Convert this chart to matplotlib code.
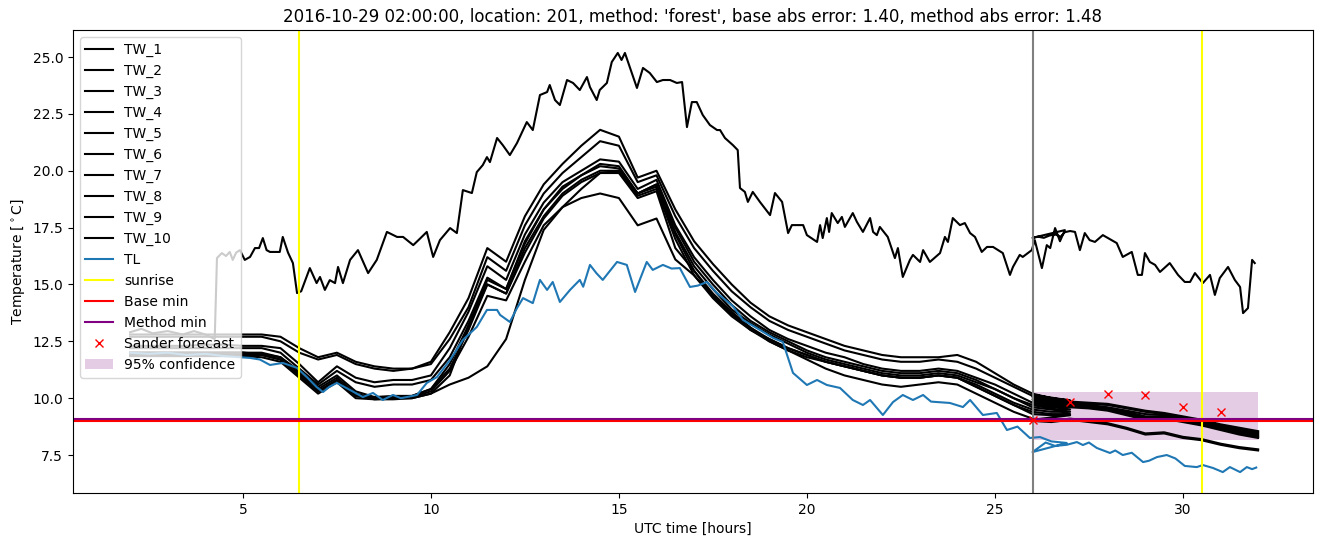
"""Station 201 temperature traces with minimum-temperature forecasts (2016-10-29 02:00)."""
import matplotlib
matplotlib.use("Agg")
import matplotlib.pyplot as plt
import numpy as np

# --- data -----------------------------------------------------------------
# half-hourly wall sensors TW_2..TW_10 (history 2h..27h, then forecast pass 26h..32h)
t_hist = np.arange(2.0, 27.01, 0.5)
t_fc = np.arange(26.0, 32.01, 0.5)

tw_hist = {
    "TW_2": [12.8, 12.8, 12.8, 12.8, 12.8, 12.8, 12.8, 12.8, 12.7, 12.2,
             11.8, 12.0, 11.6, 11.4, 11.3, 11.3, 11.6, 12.9, 14.4, 16.6,
             16.0, 18.0, 19.4, 20.3, 21.1, 21.8, 21.5, 19.7, 20.0, 18.3,
             16.9, 15.9, 15.0, 14.2, 13.6, 13.2, 12.9, 12.6, 12.3, 12.1,
             11.9, 11.8, 11.8, 11.8, 11.9, 11.6, 11.1, 10.6, 10.2, 10.0, 9.9],
    "TW_3": [12.7, 12.7, 12.7, 12.7, 12.7, 12.7, 12.7, 12.7, 12.5, 12.0,
             11.7, 11.9, 11.5, 11.3, 11.2, 11.3, 11.5, 12.6, 14.0, 16.2,
             15.6, 17.6, 19.0, 19.9, 20.6, 21.3, 21.1, 19.5, 19.8, 18.0,
             16.6, 15.6, 14.7, 14.0, 13.4, 13.0, 12.7, 12.4, 12.1, 11.9,
             11.7, 11.6, 11.6, 11.7, 11.6, 11.3, 10.9, 10.5, 10.1, 9.9, 9.8],
    "TW_4": [12.3, 12.3, 12.3, 12.3, 12.35, 12.35, 12.3, 12.3, 12.2, 11.5,
             10.7, 11.4, 10.9, 10.7, 10.8, 10.8, 11.0, 12.2, 13.8, 15.8,
             15.2, 17.2, 18.6, 19.5, 20.0, 20.5, 20.4, 19.2, 19.6, 17.6,
             16.2, 15.2, 14.3, 13.6, 13.0, 12.6, 12.3, 12.0, 11.8, 11.5,
             11.3, 11.2, 11.2, 11.3, 11.2, 10.9, 10.6, 10.2, 9.8, 9.7, 9.7],
    "TW_5": [12.2, 12.2, 12.2, 12.2, 12.2, 12.2, 12.2, 12.2, 12.0, 11.3,
             10.6, 11.2, 10.7, 10.5, 10.6, 10.6, 10.8, 11.8, 13.4, 15.3,
             14.8, 16.8, 18.3, 19.2, 19.8, 20.3, 20.2, 19.0, 19.4, 17.3,
             15.8, 14.8, 13.9, 13.3, 12.8, 12.4, 12.0, 11.7, 11.5, 11.3,
             11.1, 11.0, 11.0, 11.1, 11.0, 10.7, 10.4, 10.0, 9.7, 9.6, 9.6],
    "TW_6": [12.0, 12.0, 12.0, 12.0, 12.0, 12.0, 12.0, 11.95, 11.8, 11.1,
             10.4, 10.9, 10.2, 10.0, 10.05, 10.1, 10.4, 11.3, 13.0, 15.0,
             14.6, 16.6, 18.0, 19.0, 19.6, 20.0, 20.0, 18.9, 19.2, 17.0,
             15.4, 14.4, 13.6, 13.0, 12.5, 12.1, 11.8, 11.6, 11.4, 11.2,
             11.0, 10.9, 10.9, 11.0, 10.9, 10.5, 10.1, 9.7, 9.4, 9.3, 9.3],
    "TW_7": [11.9, 11.9, 11.9, 11.9, 11.9, 11.9, 11.9, 11.9, 11.7, 11.0,
             10.3, 10.8, 10.1, 10.0, 10.0, 10.05, 10.3, 11.2, 12.7, 14.5,
             14.3, 16.0, 17.6, 18.4, 18.8, 19.0, 18.8, 17.6, 17.9, 16.1,
             15.4, 14.5, 13.7, 13.1, 12.5, 12.1, 11.7, 11.3, 11.0, 10.8,
             10.6, 10.5, 10.6, 10.7, 10.6, 10.2, 9.8, 9.4, 9.1, 9.0, 9.0],
    "TW_8": [12.0, 12.0, 12.0, 12.0, 12.0, 12.0, 12.0, 12.0, 11.8, 11.2,
             10.5, 11.0, 10.3, 10.05, 10.1, 10.1, 10.4, 11.5, 13.2, 15.2,
             14.8, 16.9, 18.3, 19.3, 19.8, 20.2, 20.1, 19.0, 19.3, 17.2,
             15.6, 14.6, 13.8, 13.1, 12.6, 12.2, 11.9, 11.6, 11.4, 11.2,
             11.0, 10.9, 10.9, 11.0, 10.9, 10.5, 10.1, 9.7, 9.3, 9.25, 9.25],
    "TW_9": [12.0, 12.0, 12.0, 12.0, 12.0, 12.0, 12.0, 11.9, 11.7, 11.0,
             10.3, 10.8, 10.1, 9.95, 10.0, 10.0, 10.2, 10.6, 10.9, 11.4,
             12.6, 15.2, 17.4, 18.4, 19.2, 19.9, 20.0, 19.0, 19.4, 17.5,
             16.0, 15.0, 14.1, 13.4, 12.9, 12.5, 12.1, 11.8, 11.6, 11.4,
             11.2, 11.1, 11.1, 11.2, 11.1, 10.8, 10.4, 10.0, 9.6, 9.5, 9.5],
    "TW_10": [11.85, 11.85, 11.85, 11.85, 11.85, 11.85, 11.85, 11.8, 11.6, 10.9,
              10.2, 10.7, 10.0, 9.95, 9.95, 10.0, 10.2, 11.0, 13.2, 15.0,
              14.6, 16.4, 17.9, 18.9, 19.5, 19.9, 19.9, 18.8, 19.1, 16.6,
              15.6, 14.5, 13.7, 13.0, 12.6, 12.2, 11.9, 11.6, 11.4, 11.2,
              11.0, 10.9, 10.9, 11.0, 10.9, 10.6, 10.2, 9.8, 9.5, 9.4, 9.4],
}

tw_fc = {
    "TW_2": [10.15, 10.0, 9.85, 9.8, 9.75, 9.6, 9.45, 9.35, 9.2, 9.05, 8.85, 8.7, 8.55],
    "TW_3": [10.05, 9.9, 9.8, 9.75, 9.7, 9.55, 9.4, 9.3, 9.15, 9.0, 8.8, 8.65, 8.5],
    "TW_4": [9.95, 9.85, 9.75, 9.7, 9.6, 9.45, 9.3, 9.25, 9.1, 8.95, 8.75, 8.6, 8.45],
    "TW_5": [9.85, 9.8, 9.7, 9.65, 9.55, 9.4, 9.2, 9.2, 9.05, 8.9, 8.7, 8.55, 8.4],
    "TW_6": [9.75, 9.7, 9.65, 9.6, 9.5, 9.35, 9.15, 9.1, 9.0, 8.85, 8.65, 8.5, 8.35],
    "TW_7": [9.0, 8.95, 9.05, 8.95, 8.85, 8.65, 8.4, 8.45, 8.25, 8.15, 7.95, 7.8, 7.7],
    "TW_8": [9.05, 9.0, 9.1, 9.0, 8.9, 8.7, 8.45, 8.5, 8.3, 8.2, 8.0, 7.85, 7.75],
    "TW_9": [9.8, 9.75, 9.7, 9.6, 9.5, 9.3, 9.1, 9.15, 9.0, 8.85, 8.65, 8.45, 8.3],
    "TW_10": [9.7, 9.65, 9.6, 9.55, 9.45, 9.25, 9.05, 9.1, 8.95, 8.8, 8.6, 8.4, 8.25],
}

# TW_1 (noisy, sampled irregularly)
t_tw1 = [2.0, 2.3, 2.6, 3.0, 3.4, 3.7, 4.0, 4.25, 4.31, 4.44, 4.55, 4.65, 4.73, 4.82, 4.92,
         5.05, 5.19, 5.32, 5.43, 5.53, 5.63, 5.72, 5.98, 6.06, 6.2, 6.33, 6.44, 6.55, 6.78,
         6.96, 7.05, 7.18, 7.31, 7.45, 7.53, 7.66, 7.85, 8.06, 8.33, 8.56, 8.83, 9.1, 9.26,
         9.53, 9.7, 9.89, 10.06, 10.24, 10.51, 10.69, 10.85, 11.09, 11.22, 11.38, 11.49,
         11.57, 11.76, 11.91, 12.1, 12.29, 12.55, 12.71, 12.9, 13.09, 13.16, 13.3, 13.43,
         13.62, 13.78, 13.96, 14.15, 14.23, 14.41, 14.49, 14.68, 14.81, 14.97, 15.07, 15.16,
         15.29, 15.48, 15.64, 15.82, 16.01, 16.17, 16.36, 16.54, 16.68, 16.81, 16.94, 17.07,
         17.23, 17.42, 17.61, 17.69, 17.82, 18.03, 18.16, 18.22, 18.35, 18.43, 18.56, 18.75,
         19.02, 19.15, 19.34, 19.5, 19.6, 19.77, 19.9, 20.0, 20.27, 20.35, 20.42, 20.53,
         20.59, 20.66, 20.82, 20.93, 21.01, 21.22, 21.33, 21.49, 21.68, 21.76, 21.86, 21.94,
         22.15, 22.34, 22.42, 22.55, 22.74, 22.82, 23.01, 23.09, 23.27, 23.54, 23.67, 23.75,
         23.88, 24.07, 24.2, 24.34, 24.47, 24.65, 24.79, 24.95, 25.21, 25.4, 25.48, 25.66,
         25.74, 25.98, 26.06, 26.25, 26.38, 26.47, 26.6, 26.73, 26.86,
         # forecast pass
         26.0, 26.15, 26.3, 26.45, 26.6, 26.75, 26.86, 27.0, 27.13, 27.26, 27.39, 27.52,
         27.66, 27.87, 28.05, 28.24, 28.4, 28.64, 28.8, 28.91, 28.99, 29.12, 29.26, 29.39,
         29.65, 29.87, 30.05, 30.19, 30.32, 30.53, 30.72, 30.85, 30.98, 31.2, 31.38, 31.52,
         31.6, 31.73, 31.84, 31.91]
tw1 = [12.9, 13.05, 12.85, 12.95, 12.8, 12.95, 12.8, 12.6, 16.16, 16.38, 16.25, 16.43, 16.08, 16.4, 16.51,
       16.08, 16.21, 16.6, 16.6, 17.04, 16.51, 16.43, 16.43, 17.09, 16.4, 15.94, 14.62, 14.7, 15.72,
       15.06, 15.33, 14.76, 15.19, 15.06, 15.77, 15.06, 16.08, 16.51, 15.5, 16.08, 17.31, 17.09, 17.09,
       16.73, 17.0, 17.31, 16.21, 16.95, 17.48, 17.26, 19.15, 19.02, 19.94, 20.25, 20.6,
       20.38, 21.44, 21.13, 20.69, 21.22, 22.14, 21.79, 23.33, 23.46, 23.77, 23.11, 22.89,
       23.99, 23.86, 23.55, 24.12, 23.68, 23.11, 23.55, 23.86, 24.78, 25.18, 24.87, 25.18,
       24.56, 23.64, 24.52, 24.3, 23.9, 23.99, 23.99, 23.86, 23.9, 21.92, 23.02, 23.02,
       22.45, 22.01, 21.79, 21.79, 21.44, 21.13, 20.91, 19.24, 19.07, 18.63, 19.07, 18.63,
       18.05, 19.02, 18.63, 17.26, 17.61, 17.61, 17.61, 17.17, 16.87, 17.61, 17.04, 17.92,
       17.31, 18.14, 17.7, 17.97, 17.53, 18.14, 17.75, 17.31, 17.92, 17.31, 17.17, 17.53,
       17.09, 16.16, 16.6, 15.33, 16.08, 16.3, 15.99, 16.51, 15.99, 16.38, 17.09, 16.87,
       17.92, 17.61, 17.7, 17.26, 17.09, 16.43, 16.65, 16.65, 16.38, 15.42, 15.77, 16.3,
       16.21, 16.51, 16.95, 15.72, 16.73, 16.6, 17.48, 16.9, 17.39,
       17.05, 17.1, 17.05, 17.15, 17.2, 17.1, 17.3, 17.35, 17.31, 16.51, 17.26, 16.95,
       16.87, 17.17, 17.0, 16.82, 16.21, 16.43, 15.42, 15.42, 16.38, 15.99, 15.86, 15.55,
       15.94, 15.42, 15.11, 15.11, 15.5, 15.06, 15.42, 14.54, 15.28, 15.77, 15.2, 14.89,
       13.74, 13.96, 16.08, 15.94]

# TL air temperature
t_tl = [2.0, 2.5, 3.0, 3.5, 4.0, 4.5, 5.19, 5.45, 5.72, 6.06, 6.44, 6.7, 6.96, 7.13, 7.3, 7.5,
        7.85, 8.19, 8.46, 8.72, 8.99, 9.2, 9.36, 9.63, 9.89, 10.16, 10.51, 10.85, 11.22, 11.49,
        11.76, 11.84, 12.1, 12.29, 12.45, 12.71, 12.9, 13.09, 13.24, 13.43, 13.7, 13.96, 14.05,
        14.23, 14.4, 14.57, 14.95, 15.21, 15.43, 15.74, 15.9, 16.17, 16.4, 16.62, 16.89, 17.1,
        17.34, 17.61, 18.03, 18.3, 18.67, 19.1, 19.36, 19.63, 20.0, 20.27, 20.53, 20.88, 21.22,
        21.49, 21.68, 22.02, 22.29, 22.55, 22.82, 23.09, 23.3, 23.46, 23.8, 24.15, 24.34, 24.68,
        25.05, 25.32, 25.6, 25.93, 26.2, 26.5, 26.91,
        # forecast pass
        26.0, 26.35, 26.6, 26.91, 27.18, 27.34, 27.5, 27.71, 28.06, 28.2, 28.4, 28.64, 28.94,
        29.1, 29.31, 29.57, 29.8, 30.05, 30.37, 30.53, 30.8, 31.06, 31.25, 31.52, 31.7, 31.84,
        31.95]
tl = [12.0, 11.95, 12.0, 11.9, 11.95, 11.85, 11.77, 11.7, 11.46, 11.55, 11.33, 10.93, 10.49, 10.27,
      10.5, 10.67, 10.36, 10.05, 10.23, 9.92, 10.14, 10.0, 10.05, 10.14, 10.67, 10.93, 11.68, 12.56,
      13.13, 13.88, 13.88, 13.66, 13.35, 13.96, 14.4, 14.18, 15.2, 14.76, 15.11, 14.23, 14.76, 15.2,
      14.9, 15.86, 15.5, 15.2, 15.99, 15.86, 14.67, 15.99, 15.64, 15.86, 15.7, 15.72, 14.89, 14.95,
      15.11, 14.62, 14.05, 13.44, 13.08, 12.65, 12.47, 11.11, 10.58, 10.8, 10.58, 10.45, 9.92,
      9.7, 9.92, 9.26, 9.83, 10.14, 9.92, 10.14, 9.85, 9.83, 9.79, 9.61, 9.92, 9.26,
      9.35, 8.6, 8.75, 8.25, 8.29, 8.1, 8.03,
      7.63, 8.05, 7.9, 7.95, 8.07, 7.94, 8.05, 7.81, 7.59, 7.7, 7.5, 7.6, 7.19,
      7.25, 7.41, 7.5, 7.35, 7.02, 6.97, 7.06, 6.93, 6.75, 6.97, 6.75, 6.97, 6.88,
      6.95]

sunrise = [6.5, 30.5]
forecast_start = 26.0
base_min = 9.01
method_min = 9.10

sander_t = [26, 27, 28, 29, 30, 31]
sander_val = [9.02, 9.83, 10.17, 10.12, 9.61, 9.39]

conf_t = [26.0, 32.0]
conf_low = 8.15
conf_high = 10.27

# --- plot -----------------------------------------------------------------
fig = plt.figure(figsize=(13.24, 5.47), dpi=100)
ax = fig.add_axes([0.0551, 0.0987, 0.9366, 0.8465])

ax.plot(t_tw1, tw1, color="black", lw=1.5, label="TW_1")
for name in tw_hist:
    ax.plot(np.r_[t_hist, t_fc], np.r_[tw_hist[name], tw_fc[name]],
            color="black", lw=1.5, label=name)
ax.plot(t_tl, tl, color="C0", lw=1.5, label="TL")

for i, s in enumerate(sunrise):
    ax.axvline(s, color="yellow", lw=1.5, label="sunrise" if i == 0 else None)
ax.axvline(forecast_start, color="grey", lw=1.5)

ax.axhline(base_min, color="red", lw=1.5, label="Base min")
ax.axhline(method_min, color="purple", lw=1.5, label="Method min")
ax.plot(sander_t, sander_val, "rx", label="Sander forecast")
ax.fill_between(conf_t, conf_low, conf_high, color="purple", alpha=0.2, lw=0,
                label="95% confidence")

ax.set_xlim(0.48, 33.46)
ax.set_ylim(5.83, 26.19)
ax.set_xlabel("UTC time [hours]")
ax.set_ylabel(r"Temperature [$^\circ$C]")
ax.set_title("2016-10-29 02:00:00, location: 201, method: 'forest', "
             "base abs error: 1.40, method abs error: 1.48")
ax.legend(loc="upper left")

fig.savefig("out.png", dpi=100)
